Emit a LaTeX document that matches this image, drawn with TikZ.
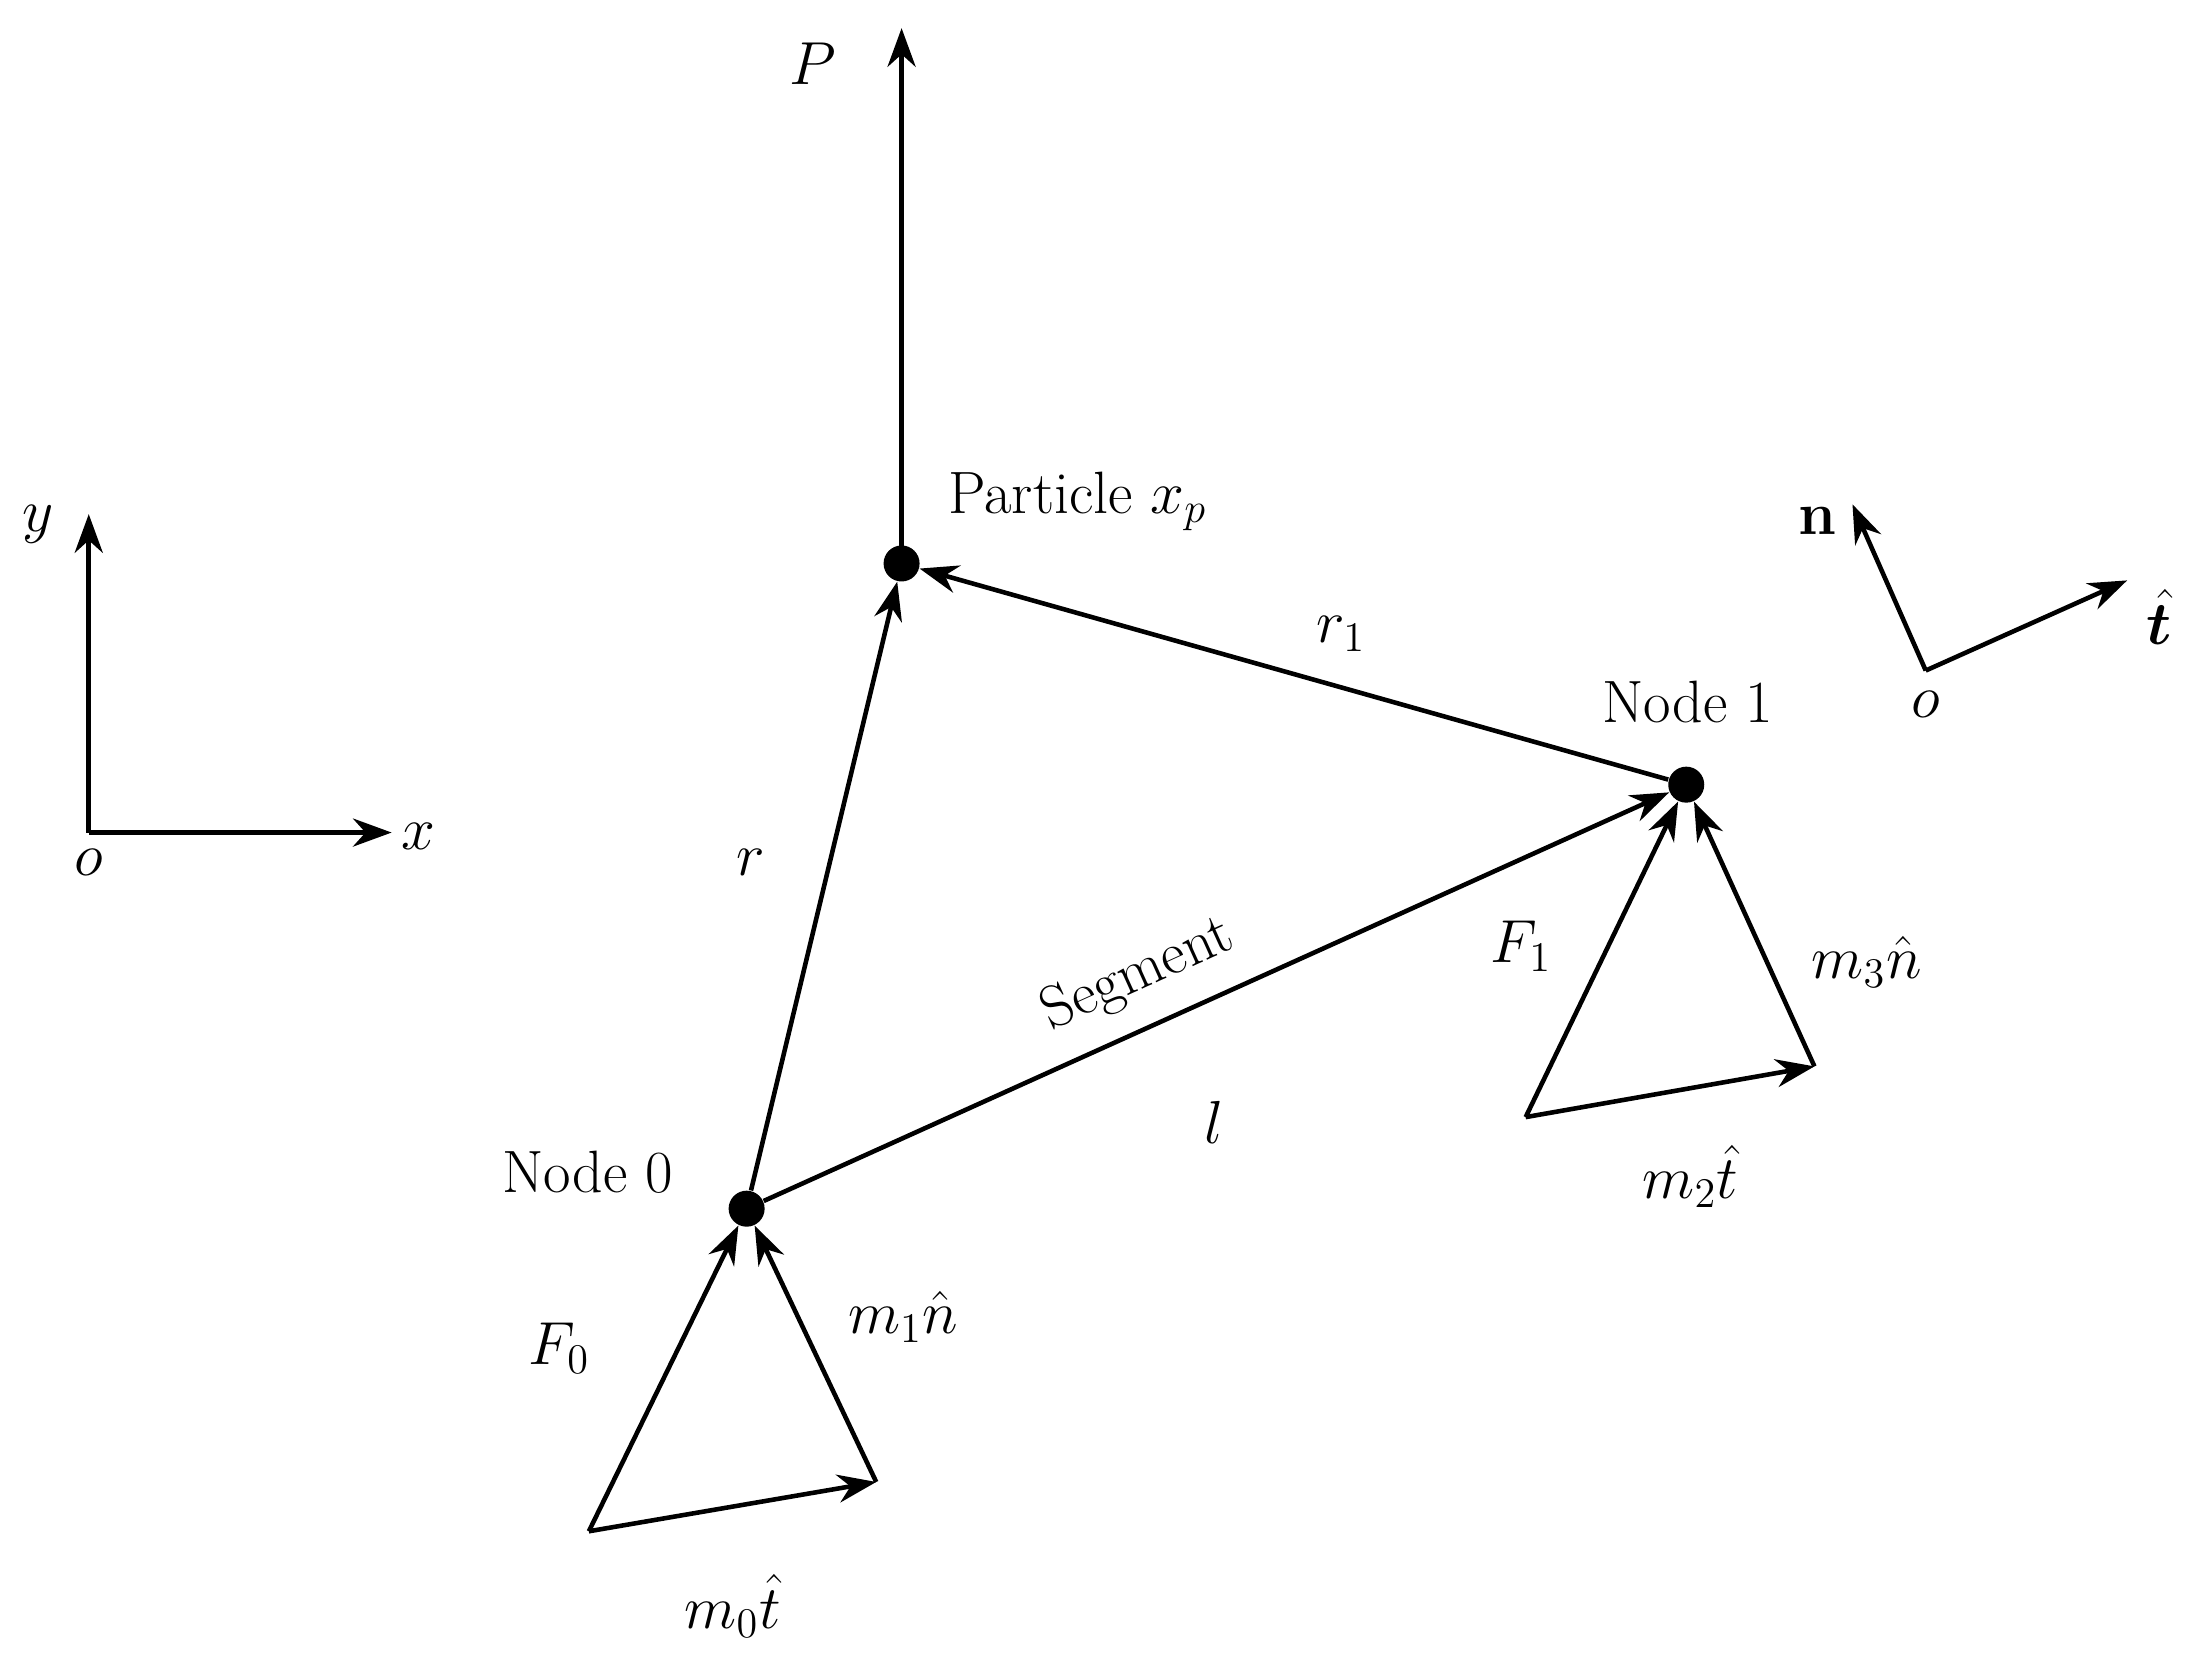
\documentclass[tikz,border=0pt]{standalone}
\usepackage{amsmath,bm}
\usetikzlibrary{arrows.meta}
\begin{document}
\begin{tikzpicture}[x=0.01409cm,y=-0.01409cm,
  every node/.style={font=\fontsize{17}{20}\selectfont},
  vec/.style={line width=1.3pt,-{Stealth[length=11pt,width=8pt]}},
  dot/.style={circle,fill=black,inner sep=0pt,minimum size=0.36cm}]
\useasboundingbox (0,0) rectangle (1561,1179);
\node[dot] (pt) at (640,400) {};
\node[dot] (n0) at (530,858) {};
\node[dot] (n1) at (1197,557) {};
\coordinate (P) at (640,20);
\draw[vec] (pt.center) -- (P);
\node (Pl) at (577,45) {$P$};
\draw[vec] (n0) -- (pt);
\draw[vec] (n1) -- (pt);
\draw[vec] (n0) -- (n1);
\node (rl) at (533,612) {$r$};
\node (r1l) at (952,450) {$r_1$};
\node[rotate=24.3] (seg) at (808,692) {Segment};
\node (ll) at (862,797) {$l$};
\node (n0l) at (417,832) {Node 0};
\node (n1l) at (1198,498) {Node 1};
\node (ptl) at (765,356) {Particle $x_p$};
% triangle 0
\coordinate (a0) at (418,1087);
\coordinate (b0) at (622,1052);
\draw[vec] (a0) -- (n0);
\draw[vec] (a0) -- (b0);
\draw[vec] (b0) -- (n0);
\node (F0) at (397,957) {$F_0$};
\node (m1) at (641,935) {$m_1\hat{n}$};
\node (m0) at (520,1140) {$m_0\hat{t}$};
% triangle 1
\coordinate (a1) at (1083,793);
\coordinate (b1) at (1288,757);
\draw[vec] (a1) -- (n1);
\draw[vec] (a1) -- (b1);
\draw[vec] (b1) -- (n1);
\node (F1) at (1080,672) {$F_1$};
\node (m3) at (1325,683) {$m_3\hat{n}$};
\node (m2) at (1200,835) {$m_2\hat{t}$};
% global axes
\coordinate (O) at (63,591);
\coordinate (Y) at (63,365);
\coordinate (X) at (278,591);
\draw[vec] (O) -- (Y);
\draw[vec] (O) -- (X);
\node (yl) at (27,372) {$y$};
\node (xl) at (297,594) {$x$};
\node (ol) at (63,612) {$o$};
% local frame
\coordinate (O2) at (1367,476);
\coordinate (N2) at (1315,358);
\coordinate (T2) at (1510,412);
\draw[vec] (O2) -- (N2);
\draw[vec] (O2) -- (T2);
\node (nl) at (1290,370) {$\mathbf{n}$};
\node (tl) at (1533,438) {$\hat{\bm{t}}$};
\node (o2l) at (1367,500) {$o$};
\end{tikzpicture}
\end{document}
